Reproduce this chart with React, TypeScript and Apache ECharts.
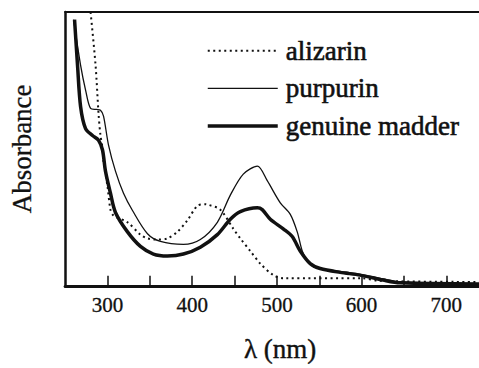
import React, { useEffect, useRef } from "react";
import * as echarts from "echarts";

// wavelength (nm), absorbance (arb.)
const alizarinX = [280, 285.9, 289.4, 291.7, 294.1, 295.3, 300, 303.5, 307.1, 323.6, 338.9, 347.2, 359, 370.7, 382.5, 394.3, 406.1, 415.5, 419.1, 433.2, 448.6, 456.8, 468.6, 480.4, 495.7, 507.5, 599.5, 621.9, 738.6];
const alizarinY = [1.0, 0.806, 0.63, 0.549, 0.504, 0.454, 0.363, 0.278, 0.257, 0.232, 0.187, 0.173, 0.169, 0.173, 0.197, 0.239, 0.292, 0.298, 0.296, 0.278, 0.208, 0.173, 0.127, 0.081, 0.039, 0.028, 0.028, 0.018, 0.014];

const purpurinX = [260, 268.2, 274.1, 280, 287, 291.7, 295.3, 301.2, 309.4, 318.9, 329.5, 347.2, 362.5, 389.6, 409.6, 429.7, 445, 460.3, 476.9, 488.6, 504, 515.8, 524, 529.9, 535.8, 545.2, 574.7, 598.3, 625.4, 645.4, 738.6];
const purpurinY = [0.972, 0.806, 0.715, 0.648, 0.644, 0.641, 0.62, 0.514, 0.419, 0.338, 0.275, 0.19, 0.162, 0.151, 0.169, 0.232, 0.331, 0.408, 0.437, 0.384, 0.303, 0.261, 0.197, 0.127, 0.092, 0.067, 0.053, 0.042, 0.025, 0.014, 0.007];

const madderX = [261.1, 264.6, 268.2, 274.1, 282.3, 289.4, 294.1, 297.6, 303.5, 309.4, 323.6, 338.9, 354.2, 370.7, 389.6, 409.6, 429.7, 445, 456.8, 476.9, 482.7, 492.2, 507.5, 518.1, 527.5, 539.3, 551.1, 574.7, 598.3, 625.4, 645.4, 738.6];
const madderY = [0.972, 0.806, 0.655, 0.574, 0.549, 0.532, 0.496, 0.419, 0.338, 0.268, 0.197, 0.144, 0.116, 0.109, 0.116, 0.141, 0.187, 0.243, 0.271, 0.285, 0.278, 0.243, 0.208, 0.18, 0.127, 0.081, 0.063, 0.049, 0.039, 0.021, 0.011, 0.007];

const seriesNames = ["alizarin", "purpurin", "genuine madder"];
const xLabels = [300, 400, 500, 600, 700];

const zip = (xs: number[], ys: number[]) => xs.map((x, i) => [x, ys[i]]);

const FONT = "'Liberation Serif', 'Times New Roman', 'DejaVu Serif', serif";
const INK = "#111";

const lineStyles = [
  { color: INK, width: 2, type: [2, 3.5] as number[] | string },
  { color: INK, width: 1.3, type: "solid" as number[] | string },
  { color: INK, width: 3.5, type: "solid" as number[] | string },
];

export default function App() {
  const ref = useRef<HTMLDivElement>(null);
  useEffect(() => {
    if (!ref.current) return;
    const chart = echarts.init(ref.current, undefined, { renderer: "svg" });
    chart.setOption({
      animation: false,
      textStyle: { fontFamily: FONT },
      grid: { left: 65, top: 12, right: 0, bottom: 72 },
      legend: {
        orient: "vertical",
        left: 206,
        top: 37,
        padding: 0,
        itemWidth: 70,
        itemHeight: 12,
        itemGap: 10,
        data: seriesNames.map((name, i) => ({ name, lineStyle: lineStyles[i] })),
        itemStyle: { opacity: 0, borderWidth: 0 },
        textStyle: {
          fontFamily: FONT,
          fontSize: 27,
          color: INK,
          padding: [0, 0, 0, 3],
          textBorderColor: INK,
          textBorderWidth: 0.6,
        },
      },
      xAxis: [
        {
          type: "value",
          min: 250,
          max: 738.6,
          interval: 50,
          name: "λ (nm)",
          nameLocation: "middle",
          nameGap: 50,
          nameTextStyle: {
            fontFamily: FONT,
            fontSize: 27,
            color: INK,
            padding: [0, 0, 0, 16],
            textBorderColor: INK,
            textBorderWidth: 0.4,
          },
          axisLine: { show: true, onZero: false, lineStyle: { color: INK, width: 3 } },
          axisTick: { show: true, inside: true, length: 10, lineStyle: { color: INK, width: 1.5 } },
          axisLabel: {
            fontFamily: FONT,
            fontSize: 21,
            color: INK,
            margin: 9,
            textBorderColor: INK,
            textBorderWidth: 0.3,
            showMinLabel: false,
            showMaxLabel: false,
            formatter: (v: number) => (xLabels.includes(v) ? String(v) : ""),
          },
          splitLine: { show: false },
        },
        {
          type: "value",
          position: "top",
          min: 250,
          max: 738.6,
          axisLine: { show: true, onZero: false, lineStyle: { color: INK, width: 2 } },
          axisTick: { show: false },
          axisLabel: { show: false },
          splitLine: { show: false },
        },
      ],
      yAxis: {
        type: "value",
        min: 0,
        max: 1,
        name: "Absorbance",
        nameLocation: "middle",
        nameGap: 30,
        nameTextStyle: { fontFamily: FONT, fontSize: 27, color: INK, textBorderColor: INK, textBorderWidth: 0.3 },
        axisLine: { show: true, onZero: false, lineStyle: { color: INK, width: 2.5 } },
        axisTick: { show: false },
        axisLabel: { show: false },
        splitLine: { show: false },
      },
      series: [
        {
          name: seriesNames[0],
          type: "line",
          data: zip(alizarinX, alizarinY),
          symbol: "none",
          smooth: 0.3,
          lineStyle: lineStyles[0],
          itemStyle: { color: INK },
        },
        {
          name: seriesNames[1],
          type: "line",
          data: zip(purpurinX, purpurinY),
          symbol: "none",
          smooth: 0.3,
          lineStyle: lineStyles[1],
          itemStyle: { color: INK },
        },
        {
          name: seriesNames[2],
          type: "line",
          data: zip(madderX, madderY),
          symbol: "none",
          smooth: 0.3,
          lineStyle: lineStyles[2],
          itemStyle: { color: INK },
        },
      ],
    });
    return () => chart.dispose();
  }, []);
  return <div ref={ref} style={{ width: 479, height: 368, position: "absolute", left: 0, top: 0 }} />;
}
